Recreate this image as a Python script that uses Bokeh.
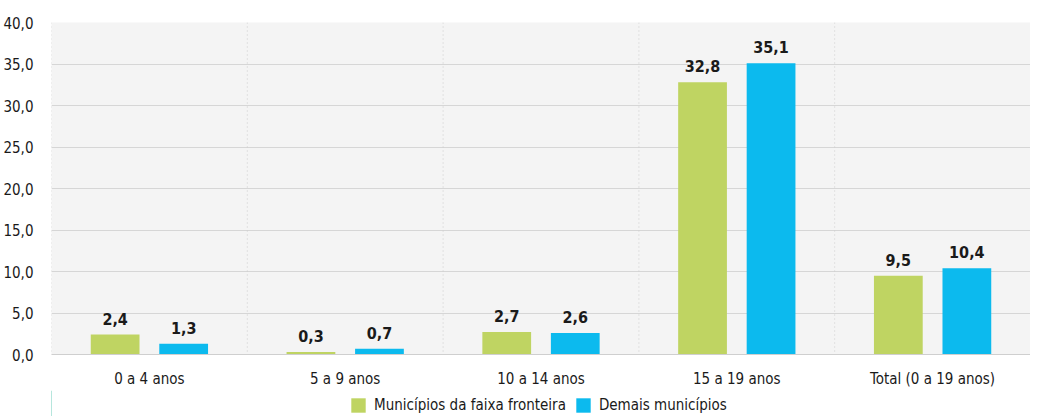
from bokeh.plotting import figure
from bokeh.layouts import column
from bokeh.models import (FactorRange, Range1d, FixedTicker, Span,
                          CustomJSTickFormatter, Legend, LegendItem, ColumnDataSource)
from bokeh.transform import dodge
from bokeh.core.properties import value
from bokeh.embed import file_html
from bokeh.resources import INLINE

categories = ["0 a 4 anos", "5 a 9 anos", "10 a 14 anos", "15 a 19 anos", "Total (0 a 19 anos)"]
fronteira = [2.4, 0.3, 2.7, 32.8, 9.5]
demais = [1.3, 0.7, 2.6, 35.1, 10.4]
series_names = ["Municípios da faixa fronteira", "Demais municípios"]
y_ticks = [0, 5, 10, 15, 20, 25, 30, 35, 40]

FONT = "DejaVu Sans Condensed"
GREEN = "#bfd462"
BLUE = "#0cbaee"
TXT = "#1a1a1a"

def fmt(v):
    return f"{v:.1f}".replace(".", ",")

src = ColumnDataSource(dict(
    cat=categories,
    f=fronteira, d=demais,
    fl=[fmt(v) for v in fronteira],
    dl=[fmt(v) for v in demais],
))

p = figure(x_range=FactorRange(*categories, range_padding=0), y_range=Range1d(0, 40),
           width=1030, height=390, output_backend="svg", toolbar_location=None,
           min_border_left=47, min_border_right=0, min_border_top=22, min_border_bottom=36,
           background_fill_color="#f4f4f4", border_fill_color="white", outline_line_color=None)

p.xgrid.visible = False
p.ygrid.ticker = FixedTicker(ticks=y_ticks)
p.ygrid.grid_line_color = "#d6d6d6"
p.ygrid.grid_line_width = 1

# dotted separators between categories (synthetic categorical coordinates)
for i in range(len(categories) + 1):
    p.add_layout(Span(location=i, dimension="height", line_color="#cdcdcd",
                      line_dash="1 3", line_width=1))

r1 = p.vbar(x=dodge("cat", -0.175, range=p.x_range), top="f", width=0.249, source=src,
            fill_color=GREEN, line_color=None)
r2 = p.vbar(x=dodge("cat", 0.175, range=p.x_range), top="d", width=0.249, source=src,
            fill_color=BLUE, line_color=None)

for col, lab, off in (("f", "fl", -0.175), ("d", "dl", 0.175)):
    p.text(x=dodge("cat", off, range=p.x_range), y=col, text=lab, source=src,
           text_align="center", text_baseline="bottom", y_offset=-10,
           text_font=value(FONT), text_font_size="16px", text_font_style="bold",
           text_color=TXT)

# y axis
yax = p.yaxis[0]
yax.ticker = FixedTicker(ticks=y_ticks)
yax.formatter = CustomJSTickFormatter(code="return tick.toFixed(1).replace('.', ',');")
yax.axis_line_color = None
yax.major_tick_line_color = None
yax.minor_tick_line_color = None
yax.major_label_standoff = 12
yax.major_label_text_font = FONT
yax.major_label_text_font_size = "15px"
yax.major_label_text_color = TXT

# x axis
xax = p.xaxis[0]
xax.axis_line_color = "#cfcfcf"
xax.major_tick_line_color = None
xax.minor_tick_line_color = None
xax.major_label_standoff = 9
xax.major_label_text_font = FONT
xax.major_label_text_font_size = "15px"
xax.major_label_text_color = TXT

# legend strip below the chart (keys only; the key glyphs lie outside the strip's view)
lg = figure(width=1030, height=26, output_backend="svg", toolbar_location=None,
            x_range=Range1d(0, 1), y_range=Range1d(0, 1),
            x_axis_location=None, y_axis_location=None, outline_line_color=None,
            min_border=0, border_fill_color="white", background_fill_color="white")
lg.xgrid.visible = False
lg.ygrid.visible = False
k1 = lg.vbar(x=[-10], top=[1], width=1, fill_color=GREEN, line_color=None)
k2 = lg.vbar(x=[-10], top=[1], width=1, fill_color=BLUE, line_color=None)
legend = Legend(items=[LegendItem(label=series_names[0], renderers=[k1]),
                       LegendItem(label=series_names[1], renderers=[k2])],
                orientation="horizontal", location=(298, 2),
                border_line_color=None, background_fill_alpha=0,
                label_text_font=FONT, label_text_font_size="15px", label_text_color=TXT,
                glyph_width=18, glyph_height=18, label_standoff=7, spacing=8,
                padding=0, margin=0)
lg.add_layout(legend, "center")

layout = column(p, lg, spacing=0)
open("out.html", "w").write(file_html(layout, INLINE))
